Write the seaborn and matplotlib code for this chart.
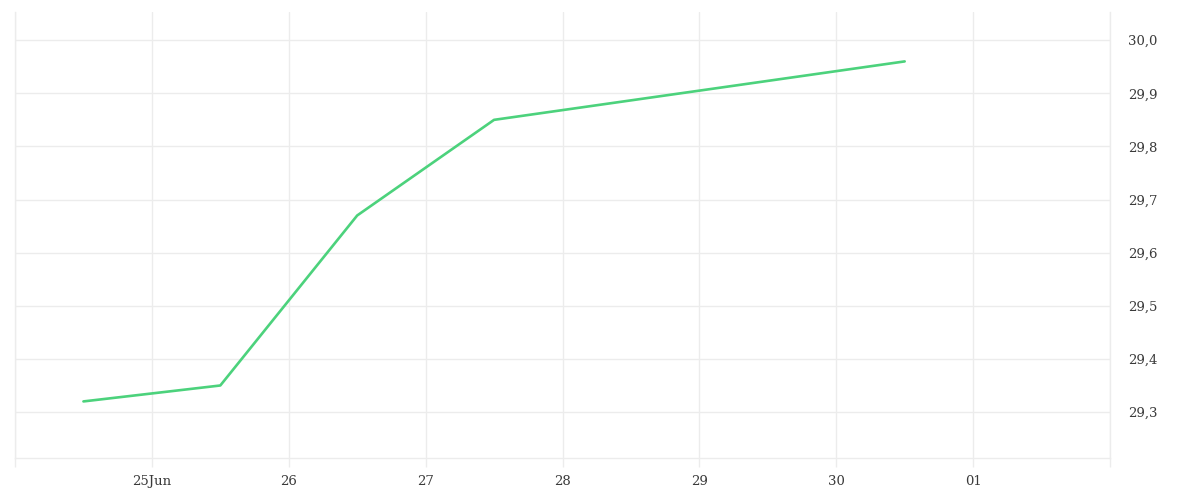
import matplotlib
matplotlib.use("Agg")
import matplotlib.pyplot as plt
import matplotlib.dates as mdates
from matplotlib.ticker import FuncFormatter, MultipleLocator
import pandas as pd
import seaborn as sns

# data
dates = ["2024-06-24 12:00", "2024-06-25 12:00", "2024-06-26 12:00",
         "2024-06-27 12:00", "2024-06-30 12:00"]
values = [29.32, 29.35, 29.67, 29.85, 29.96]
x_start = "2024-06-24"
x_end = "2024-07-02"

df = pd.DataFrame({"date": pd.to_datetime(dates), "value": values})

sns.set_theme(style="white")
plt.rcParams["font.family"] = ["DejaVu Serif", "DejaVu Sans"]

grid_color = "#ececec"
fig = plt.figure(figsize=(12, 5), dpi=100)
ax = fig.add_axes([0.0125, 0.084, 0.9125, 0.892])

sns.lineplot(data=df, x="date", y="value", ax=ax, color="#4cd27c", linewidth=1.9)

ax.set_xlim(pd.Timestamp(x_start), pd.Timestamp(x_end))
ax.set_ylim(29.2135, 30.053)

ax.xaxis.set_major_locator(mdates.DayLocator())
start = pd.Timestamp(x_start)
end = pd.Timestamp(x_end)


def fmt_day(v, pos):
    d = pd.Timestamp(mdates.num2date(v).replace(tzinfo=None)).normalize()
    if d <= start or d >= end:
        return ""
    if d.day == 25:
        return "25Jun"
    return d.strftime("%d")


ax.xaxis.set_major_formatter(FuncFormatter(fmt_day))
ax.yaxis.set_major_locator(MultipleLocator(0.1))
ax.yaxis.set_major_formatter(FuncFormatter(lambda v, p: f"{v:.1f}".replace(".", ",")))
ax.yaxis.tick_right()

ax.grid(True, color=grid_color, linewidth=1)
ax.tick_params(axis="x", length=6.5, color=grid_color, width=1, pad=6,
               labelsize=9.5, labelcolor="#3a3a3a", bottom=True)
ax.tick_params(axis="y", length=0, pad=13, labelsize=9.5, labelcolor="#3a3a3a")

for side in ["left", "right", "bottom"]:
    ax.spines[side].set_color(grid_color)
    ax.spines[side].set_linewidth(1)
ax.spines["top"].set_visible(False)

ax.set_xlabel("")
ax.set_ylabel("")

fig.savefig("out.png", dpi=100)
